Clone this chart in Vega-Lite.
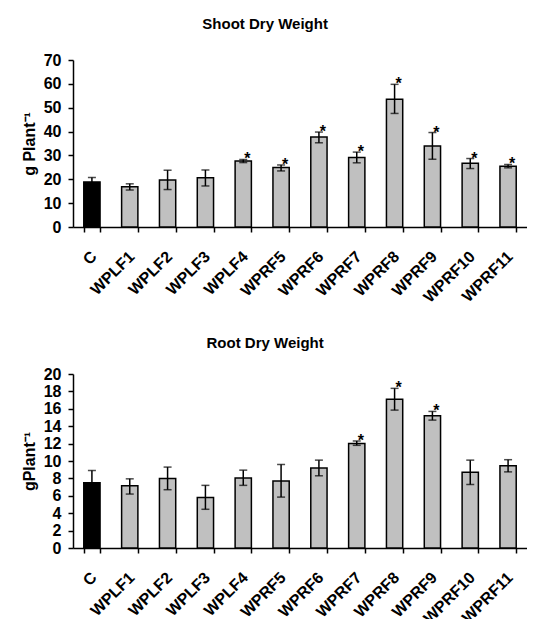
{
  "$schema": "https://vega.github.io/schema/vega-lite/v6.json",
  "background": "white",
  "padding": {"left": 21, "top": 17, "right": 0, "bottom": 0},
  "config": {
    "font": "Liberation Sans",
    "view": {"stroke": null},
    "axis": {
      "grid": false,
      "ticks": true,
      "domainColor": "black",
      "domainWidth": 1.5,
      "tickColor": "black",
      "tickWidth": 1.5,
      "tickSize": 5,
      "labelColor": "black",
      "labelFont": "Liberation Sans",
      "labelFontSize": 16,
      "labelFontWeight": "bold",
      "labelOverlap": false,
      "titleColor": "black",
      "titleFont": "Liberation Sans",
      "titleFontSize": 16,
      "titleFontWeight": "bold"
    },
    "title": {"font": "Liberation Sans", "fontSize": 15, "fontWeight": "bold", "color": "black", "anchor": "middle", "frame": "bounds"}
  },
  "datasets": {
    "shootData": [
      {"cat": "C", "grp": "control", "mean": 18.9, "lo": 17.1, "hi": 20.7, "sig": ""},
      {"cat": "WPLF1", "grp": "treat", "mean": 16.9, "lo": 15.5, "hi": 18.1, "sig": ""},
      {"cat": "WPLF2", "grp": "treat", "mean": 19.7, "lo": 15.7, "hi": 23.8, "sig": ""},
      {"cat": "WPLF3", "grp": "treat", "mean": 20.6, "lo": 17.2, "hi": 23.9, "sig": ""},
      {"cat": "WPLF4", "grp": "treat", "mean": 27.7, "lo": 27.0, "hi": 28.3, "sig": "*"},
      {"cat": "WPRF5", "grp": "treat", "mean": 24.9, "lo": 23.5, "hi": 26.0, "sig": "*"},
      {"cat": "WPRF6", "grp": "treat", "mean": 37.7, "lo": 35.3, "hi": 39.8, "sig": "*"},
      {"cat": "WPRF7", "grp": "treat", "mean": 29.1, "lo": 26.9, "hi": 31.4, "sig": "*"},
      {"cat": "WPRF8", "grp": "treat", "mean": 53.6, "lo": 47.6, "hi": 59.8, "sig": "*"},
      {"cat": "WPRF9", "grp": "treat", "mean": 34.0, "lo": 28.4, "hi": 39.6, "sig": "*"},
      {"cat": "WPRF10", "grp": "treat", "mean": 26.7, "lo": 24.5, "hi": 28.7, "sig": "*"},
      {"cat": "WPRF11", "grp": "treat", "mean": 25.5, "lo": 24.8, "hi": 26.2, "sig": "*"}
    ],
    "rootData": [
      {"cat": "C", "grp": "control", "mean": 7.5, "lo": 6.1, "hi": 8.9, "sig": ""},
      {"cat": "WPLF1", "grp": "treat", "mean": 7.15, "lo": 6.2, "hi": 7.95, "sig": ""},
      {"cat": "WPLF2", "grp": "treat", "mean": 8.0, "lo": 6.7, "hi": 9.3, "sig": ""},
      {"cat": "WPLF3", "grp": "treat", "mean": 5.8, "lo": 4.45, "hi": 7.2, "sig": ""},
      {"cat": "WPLF4", "grp": "treat", "mean": 8.05, "lo": 7.2, "hi": 8.95, "sig": ""},
      {"cat": "WPRF5", "grp": "treat", "mean": 7.7, "lo": 5.85, "hi": 9.6, "sig": ""},
      {"cat": "WPRF6", "grp": "treat", "mean": 9.2, "lo": 8.3, "hi": 10.1, "sig": ""},
      {"cat": "WPRF7", "grp": "treat", "mean": 12.0, "lo": 11.8, "hi": 12.3, "sig": "*"},
      {"cat": "WPRF8", "grp": "treat", "mean": 17.1, "lo": 15.85, "hi": 18.35, "sig": "*"},
      {"cat": "WPRF9", "grp": "treat", "mean": 15.2, "lo": 14.7, "hi": 15.7, "sig": "*"},
      {"cat": "WPRF10", "grp": "treat", "mean": 8.7, "lo": 7.3, "hi": 10.1, "sig": ""},
      {"cat": "WPRF11", "grp": "treat", "mean": 9.45, "lo": 8.75, "hi": 10.15, "sig": ""}
    ]
  },
  "spacing": 30,
  "vconcat": [
    {
      "title": {"text": "Shoot Dry Weight", "offset": 20, "dx": -9},
      "width": 454,
      "height": 167,
      "data": {"name": "shootData"},
      "encoding": {
        "x": {"field": "cat", "type": "nominal", "sort": null,
              "scale": {"paddingInner": 0.57, "paddingOuter": 0.285},
              "axis": {"title": null, "labelAngle": -45, "labelPadding": 16, "labelOffset": -4, "ticks": true, "tickBand": "extent"}}
      },
      "layer": [
        {
          "mark": {"type": "bar", "stroke": "black", "strokeWidth": 1.5},
          "encoding": {
            "y": {"field": "mean", "type": "quantitative",
                  "scale": {"domain": [0, 70], "nice": false},
                  "axis": {"title": "g Plant⁻¹", "values": [0, 10, 20, 30, 40, 50, 60, 70], "labelPadding": 7, "titlePadding": 6}},
            "color": {"field": "grp", "type": "nominal", "scale": {"domain": ["control", "treat"], "range": ["black", "#c0c0c0"]}, "legend": null}
          }
        },
        {
          "mark": {"type": "rule", "color": "black", "strokeWidth": 1.5},
          "encoding": {"y": {"field": "lo", "type": "quantitative", "axis": {"title": "g Plant⁻¹", "values": [0, 10, 20, 30, 40, 50, 60, 70], "labelPadding": 7, "titlePadding": 6}}, "y2": {"field": "hi"}}
        },
        {
          "mark": {"type": "tick", "color": "black", "thickness": 1.5, "size": 8, "orient": "horizontal"},
          "encoding": {"y": {"field": "lo", "type": "quantitative", "axis": {"title": "g Plant⁻¹", "values": [0, 10, 20, 30, 40, 50, 60, 70], "labelPadding": 7, "titlePadding": 6}}}
        },
        {
          "mark": {"type": "tick", "color": "black", "thickness": 1.5, "size": 8, "orient": "horizontal"},
          "encoding": {"y": {"field": "hi", "type": "quantitative", "axis": {"title": "g Plant⁻¹", "values": [0, 10, 20, 30, 40, 50, 60, 70], "labelPadding": 7, "titlePadding": 6}}}
        },
        {
          "mark": {"type": "text", "fontSize": 16, "fontWeight": "bold", "color": "black", "baseline": "alphabetic", "dx": 4, "dy": 5},
          "encoding": {"y": {"field": "hi", "type": "quantitative", "axis": {"title": "g Plant⁻¹", "values": [0, 10, 20, 30, 40, 50, 60, 70], "labelPadding": 7, "titlePadding": 6}}, "text": {"field": "sig"}}
        }
      ]
    },
    {
      "title": {"text": "Root Dry Weight", "offset": 15, "dx": -9},
      "width": 454,
      "height": 174,
      "data": {"name": "rootData"},
      "encoding": {
        "x": {"field": "cat", "type": "nominal", "sort": null,
              "scale": {"paddingInner": 0.57, "paddingOuter": 0.285},
              "axis": {"title": null, "labelAngle": -45, "labelPadding": 16, "labelOffset": -4, "ticks": true, "tickBand": "extent"}}
      },
      "layer": [
        {
          "mark": {"type": "bar", "stroke": "black", "strokeWidth": 1.5},
          "encoding": {
            "y": {"field": "mean", "type": "quantitative",
                  "scale": {"domain": [0, 20], "nice": false},
                  "axis": {"title": "gPlant⁻¹", "values": [0, 2, 4, 6, 8, 10, 12, 14, 16, 18, 20], "labelPadding": 7, "titlePadding": 6}},
            "color": {"field": "grp", "type": "nominal", "scale": {"domain": ["control", "treat"], "range": ["black", "#c0c0c0"]}, "legend": null}
          }
        },
        {
          "mark": {"type": "rule", "color": "black", "strokeWidth": 1.5},
          "encoding": {"y": {"field": "lo", "type": "quantitative", "axis": {"title": "gPlant⁻¹", "values": [0, 2, 4, 6, 8, 10, 12, 14, 16, 18, 20], "labelPadding": 7, "titlePadding": 6}}, "y2": {"field": "hi"}}
        },
        {
          "mark": {"type": "tick", "color": "black", "thickness": 1.5, "size": 8, "orient": "horizontal"},
          "encoding": {"y": {"field": "lo", "type": "quantitative", "axis": {"title": "gPlant⁻¹", "values": [0, 2, 4, 6, 8, 10, 12, 14, 16, 18, 20], "labelPadding": 7, "titlePadding": 6}}}
        },
        {
          "mark": {"type": "tick", "color": "black", "thickness": 1.5, "size": 8, "orient": "horizontal"},
          "encoding": {"y": {"field": "hi", "type": "quantitative", "axis": {"title": "gPlant⁻¹", "values": [0, 2, 4, 6, 8, 10, 12, 14, 16, 18, 20], "labelPadding": 7, "titlePadding": 6}}}
        },
        {
          "mark": {"type": "text", "fontSize": 16, "fontWeight": "bold", "color": "black", "baseline": "alphabetic", "dx": 4, "dy": 5},
          "encoding": {"y": {"field": "hi", "type": "quantitative", "axis": {"title": "gPlant⁻¹", "values": [0, 2, 4, 6, 8, 10, 12, 14, 16, 18, 20], "labelPadding": 7, "titlePadding": 6}}, "text": {"field": "sig"}}
        }
      ]
    }
  ]
}
